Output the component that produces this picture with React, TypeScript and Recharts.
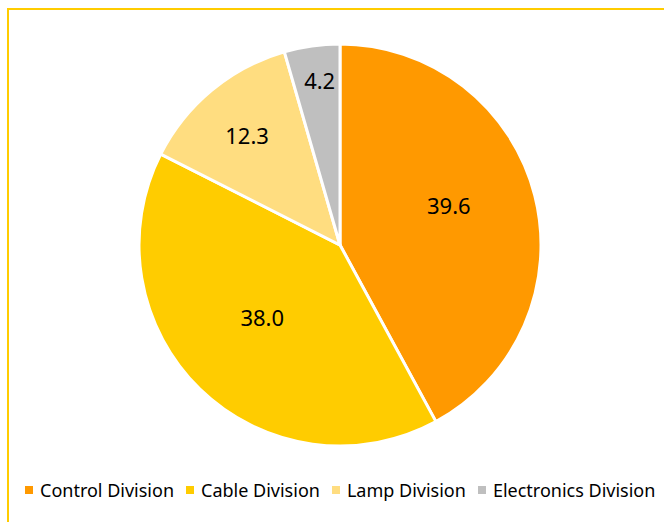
import { PieChart, Pie, Cell, Legend } from 'recharts';

const divisions = ['Control Division', 'Cable Division', 'Lamp Division', 'Electronics Division'];
const shares = [39.6, 38.0, 12.3, 4.2];
const colors = ['#FF9900', '#FFCC00', '#FFDD80', '#BFBFBF'];

// label placement: distance from centre (fraction of outer radius) and angle nudge in degrees
const LABEL_RADII = [0.577, 0.527, 0.716, 0.826];
const LABEL_NUDGE = [6, -3, 0.6, -1];

const data = divisions.map((name, i) => ({ name, value: shares[i] }));

const RAD = Math.PI / 180;

function renderLabel(props: any) {
  const { cx, cy, midAngle, outerRadius, index, value } = props;
  const r = outerRadius * LABEL_RADII[index];
  const a = (midAngle + LABEL_NUDGE[index]) * RAD;
  const x = cx + r * Math.cos(-a);
  const y = cy + r * Math.sin(-a);
  return (
    <text
      x={x}
      y={y}
      fill="#000"
      fontSize={22}
      fontFamily="'Noto Sans', sans-serif"
      textAnchor="middle"
      dominantBaseline="central"
    >
      {value.toFixed(1)}
    </text>
  );
}

function LegendContent() {
  return (
    <div
      style={{
        display: 'flex',
        alignItems: 'center',
        fontFamily: "'Noto Sans', sans-serif",
        fontSize: 18,
        color: '#000',
        whiteSpace: 'nowrap',
      }}
    >
      {divisions.map((d, i) => (
        <span key={d} style={{ display: 'flex', alignItems: 'center', marginRight: 12 }}>
          <span
            style={{
              width: 8,
              height: 8,
              background: colors[i],
              display: 'inline-block',
              marginRight: 7,
            }}
          />
          {d}
        </span>
      ))}
    </div>
  );
}

export default function App() {
  return (
    <div style={{ position: 'absolute', left: 0, top: 0, width: 664, height: 522, background: '#fff', overflow: 'hidden' }}>
      <div
        style={{
          position: 'absolute',
          left: 7,
          top: 8,
          width: 700,
          height: 600,
          border: '2px solid #FFCC00',
          boxSizing: 'border-box',
        }}
      />
      <PieChart
        width={664}
        height={522}
        margin={{ top: 0, right: 0, bottom: 0, left: 0 }}
        style={{ position: 'absolute', left: 0, top: 0 }}
      >
        <Pie
          data={data}
          dataKey="value"
          nameKey="name"
          cx={340}
          cy={245}
          outerRadius={201}
          startAngle={90}
          endAngle={-270}
          stroke="#fff"
          strokeWidth={3}
          label={renderLabel}
          labelLine={false}
          isAnimationActive={false}
        >
          {data.map((d, i) => (
            <Cell key={d.name} fill={colors[i]} />
          ))}
        </Pie>
        <Legend
          content={<LegendContent />}
          wrapperStyle={{ left: 25, top: 478, width: 700 }}
        />
      </PieChart>
    </div>
  );
}
